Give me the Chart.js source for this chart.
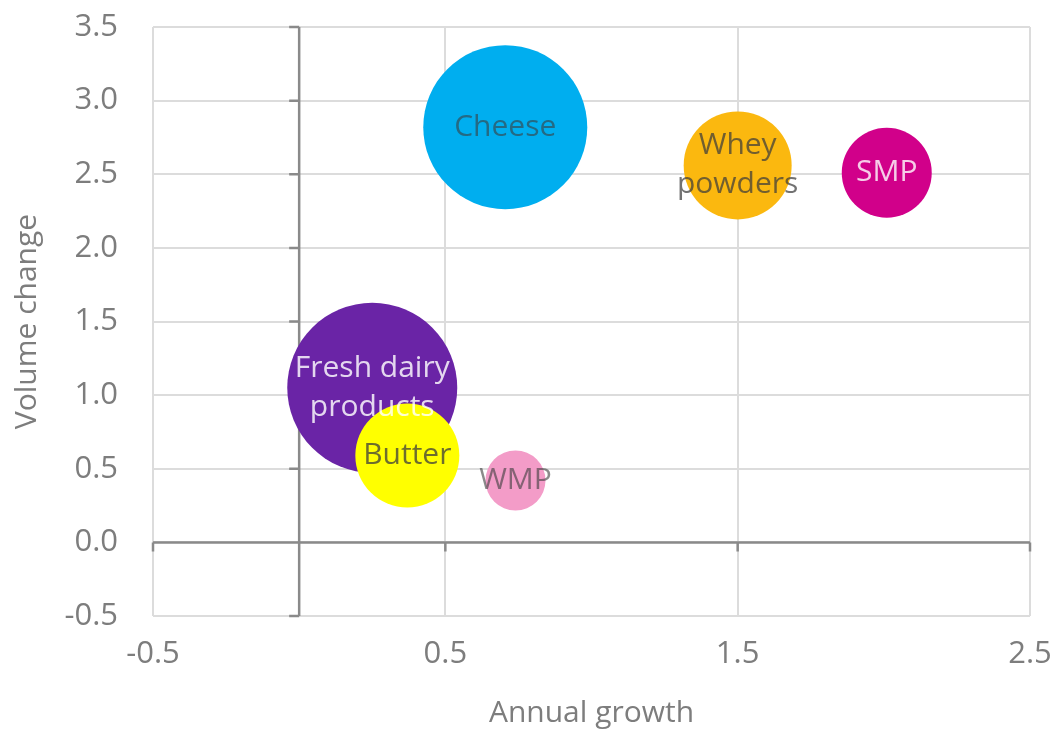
<!DOCTYPE html>
<html>
<head>
<meta charset="utf-8">
<script src="https://cdn.jsdelivr.net/npm/chart.js@4.4.1/dist/chart.umd.min.js"></script>
<style>
	body { margin: 0; background: #ffffff; }
	canvas { display: block; }
</style>
</head>
<body>
<canvas id="graficoBurbujas" width="1058" height="731"></canvas>
<script>
// Datos
const categorias = ["Cheese", "Whey powders", "SMP", "Fresh dairy products", "Butter", "WMP"];
const etiquetas = [["Cheese"], ["Whey", "powders"], ["SMP"], ["Fresh dairy", "products"], ["Butter"], ["WMP"]];
const crecimientoAnual = [0.705, 1.5, 2.01, 0.25, 0.37, 0.74];
const cambioVolumen = [2.82, 2.56, 2.51, 1.05, 0.59, 0.42];
const tamano = [82, 54, 45, 85, 52, 30];
const colores = ["#00aeef", "#fbb80f", "#d1008a", "#6a24a6", "#ffff00", "#f39cc8"];
const coloresTexto = ["rgba(60,60,60,0.6)", "rgba(60,60,60,0.72)", "rgba(255,255,255,0.8)",
                      "rgba(255,255,255,0.82)", "rgba(60,60,60,0.75)", "rgba(60,60,60,0.6)"];
const ticksX = [-0.5, 0.5, 1.5, 2.5];

const fuente = "'Open Sans', sans-serif";
const grisTexto = "#7d7d7d";

//Se dibujan los ejes en cero (mas oscuros) con sus pequeñas marcas
const ejesCero = {
	id: "ejesCero",
	beforeDatasetsDraw: function(chart){
		const {ctx, chartArea, scales} = chart;
		const x0 = scales.x.getPixelForValue(0);
		const y0 = scales.y.getPixelForValue(0);
		ctx.save();
		ctx.strokeStyle = "#8a8a8a";
		ctx.lineWidth = 2.5;
		ctx.beginPath();
		ctx.moveTo(x0, chartArea.top);
		ctx.lineTo(x0, chartArea.bottom);
		ctx.moveTo(chartArea.left, y0);
		ctx.lineTo(chartArea.right, y0);
		scales.y.ticks.forEach(t => {
			const py = scales.y.getPixelForValue(t.value);
			ctx.moveTo(x0 - 10, py);
			ctx.lineTo(x0, py);
		});
		scales.x.ticks.forEach(t => {
			const px = scales.x.getPixelForValue(t.value);
			ctx.moveTo(px, y0);
			ctx.lineTo(px, y0 + 9);
		});
		ctx.stroke();
		ctx.restore();
	}
};

//Se escriben los nombres dentro de cada burbuja
const etiquetasBurbujas = {
	id: "etiquetasBurbujas",
	afterDatasetsDraw: function(chart){
		const ctx = chart.ctx;
		const puntos = chart.getDatasetMeta(0).data;
		ctx.save();
		ctx.font = "30px " + fuente;
		ctx.textAlign = "center";
		ctx.textBaseline = "middle";
		puntos.forEach((punto, i) => {
			const lineas = etiquetas[i];
			const alto = 39;
			const inicio = punto.y - (lineas.length - 1) * alto / 2;
			ctx.fillStyle = coloresTexto[i];
			lineas.forEach((linea, j) => {
				ctx.fillText(linea, punto.x, inicio + j * alto);
			});
		});
		ctx.restore();
	}
};

const datos = categorias.map((c, i) => ({x: crecimientoAnual[i], y: cambioVolumen[i], r: tamano[i]}));

new Chart("graficoBurbujas", {
	type: "bubble",
	data: {
		datasets: [{
			data: datos,
			backgroundColor: colores,
			borderWidth: 0,
			hoverRadius: 0,
			hoverBorderWidth: 0
		}]
	},
	options: {
		responsive: false,
		animation: false,
		devicePixelRatio: 1,
		layout: { autoPadding: false, padding: { top: 27, right: 28, left: 0, bottom: 0 } },
		plugins: {
			legend: { display: false },
			tooltip: { enabled: false }
		},
		scales: {
			x: {
				type: "linear",
				min: -0.5,
				max: 2.5,
				afterBuildTicks: function(escala){
					escala.ticks = ticksX.map(v => ({value: v}));
				},
				afterFit: function(escala){
					escala.height = 115;
				},
				//las marcas transparentes solo sirven para separar las etiquetas
				grid: { color: "#dcdcdc", lineWidth: 2, drawTicks: true, tickLength: 20, tickColor: "rgba(0,0,0,0)" },
				border: { display: false },
				ticks: {
					padding: 0,
					color: grisTexto,
					font: { family: fuente, size: 31 },
					maxRotation: 0,
					callback: v => v.toFixed(1)
				},
				title: {
					display: true,
					text: "Annual growth",
					color: grisTexto,
					font: { family: fuente, size: 30 },
					padding: { top: 0, bottom: 0 }
				}
			},
			y: {
				type: "linear",
				min: -0.5,
				max: 3.5,
				afterFit: function(escala){
					escala.width = 153;
				},
				grid: { color: "#dcdcdc", lineWidth: 2, drawTicks: true, tickLength: 35, tickColor: "rgba(0,0,0,0)" },
				border: { display: false },
				ticks: {
					stepSize: 0.5,
					padding: 0,
					color: grisTexto,
					font: { family: fuente, size: 31 },
					callback: v => v.toFixed(1)
				},
				title: {
					display: true,
					text: "Volume change",
					color: grisTexto,
					font: { family: fuente, size: 30 },
					padding: { top: 9, bottom: 0 }
				}
			}
		}
	},
	plugins: [ejesCero, etiquetasBurbujas]
});
</script>
</body>
</html>
